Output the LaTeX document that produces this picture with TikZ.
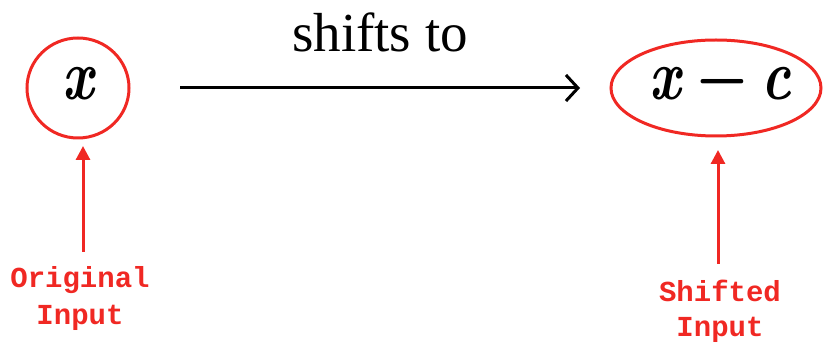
\documentclass[tikz,border=0pt]{standalone}
\usepackage{fontspec}
\newfontfamily\lmf{lmroman10}[Extension=.otf, UprightFont=*-regular, BoldFont=*-bold, ItalicFont=*-italic, BoldItalicFont=*-bolditalic]
\setmainfont{Liberation Serif}
\newfontfamily\labfont{Liberation Mono}
\usetikzlibrary{arrows.meta}
\definecolor{myred}{RGB}{240,40,35}
\tikzset{
  redring/.style={draw=myred, line width=3pt, inner sep=0pt},
  redarrow/.style={draw=myred, line width=3pt, -{Triangle[length=14pt,width=14pt]}},
  redlabel/.style={text=myred, font=\labfont\bfseries\fontsize{29}{37}\selectfont, align=center, inner sep=0pt},
  mathbig/.style={font=\lmf\bfseries\fontsize{62}{62}\selectfont}
}
\begin{document}
\begin{tikzpicture}[x=1pt,y=-1pt]
\useasboundingbox (0,0) rectangle (823,344);
\draw[redring] (78,88) ellipse [x radius=51, y radius=50];
\node[mathbig] (x) at (78,84) {\scalebox{0.9}[1.15]{\itshape x}};
\draw[redring] (716,88) ellipse [x radius=105, y radius=48];
\node[mathbig] (xc) at (720,84) {\scalebox{0.9}[1.15]{\itshape x\kern0.3em\upshape −\kern0.25em\itshape c}};
\coordinate (a1) at (180,88);
\coordinate (a2) at (580,88);
\draw[line width=3pt, -{Straight Barb[length=12pt,width=26pt,line width=3pt]}] (a1) -- (a2);
\node[font=\fontsize{55}{55}\selectfont, anchor=base] (lbl) at (380,52) {shifts to};
\node[redlabel, anchor=base] (orig) at (80,288) {Original};
\node[redlabel, anchor=base] (orig2) at (80,325) {Input};
\node[redlabel, anchor=base] (shf) at (720,302) {Shifted};
\node[redlabel, anchor=base] (shf2) at (720,337) {Input};
\coordinate (o1) at (83,252);
\coordinate (o2) at (83,146);
\coordinate (s1) at (718,264);
\coordinate (s2) at (718,150);
\draw[redarrow] (o1) -- (o2);
\draw[redarrow] (s1) -- (s2);
\end{tikzpicture}
\end{document}
